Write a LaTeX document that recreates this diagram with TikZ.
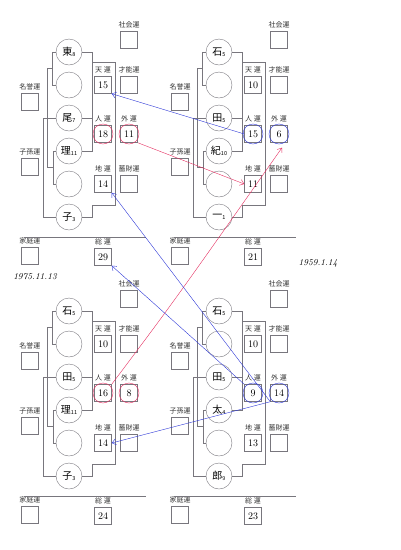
\documentclass[tikz,border=0pt]{standalone}
\usepackage{fontspec}
\newfontfamily\jp{Noto Sans CJK JP}
\usetikzlibrary{arrows.meta,positioning}

\definecolor{formgray}{RGB}{120,118,125}
\definecolor{penred}{RGB}{228,45,95}
\definecolor{penblue}{RGB}{45,55,215}

\tikzset{
  lbl/.style={font=\jp\fontsize{7}{7}\selectfont, text=black!80, inner sep=0pt},
  cell/.style={draw=formgray, minimum size=17pt, inner sep=0pt, font=\fontsize{10}{10}\selectfont},
  moji/.style={draw=formgray, circle, minimum size=26pt, inner sep=0pt, font=\jp\fontsize{10}{10}\selectfont},
  rule/.style={formgray, thin},
  pen/.style={thin, -{Straight Barb[length=4pt,width=6pt]}},
  hand/.style={font=\itshape\fontsize{9}{9}\selectfont, inner sep=0pt},
}

% one blank sheet: #1 = characters/strokes, #2..#6 = ten, jin, gai, chi, sou
\newcommand{\kanteisheet}[6]{%
  % name circles
  \foreach \ch/\n [count=\i] in {#1}
    \node[moji] (c\i) at (69,{19+33*\i}) {\ch\raisebox{-1.5pt}{\fontsize{5.5}{5.5}\selectfont\n}};
  % brackets left
  \draw[rule] (c1.west) -- (52,52) -- (52,85) -- (c2.west);
  \draw[rule] (c4.west) -- (53,151) -- (53,184) -- (c5.west);
  \draw[rule] (52,68) -- (47,68) -- (47,167) -- (53,167);
  \draw[rule] (c3.west) -- (43,118) -- (43,217) -- (c6.west);
  % brackets right
  \draw[rule] (c1.east) -- (92,52) -- (92,151) -- (c4.east);
  \draw[rule] (c3.east) -- (92,118);
  \draw[rule] (c6.east) -- (92,217) -- (92,205) -- (115,205) -- (115,62) -- (92,62);
  % boxes with numbers
  \node[cell] (ten) at (103,85) {#2};
  \node[cell] (jin) at (103,134) {#3};
  \node[cell] (gai) at (129,134) {#4};
  \node[cell] (chi) at (103,184) {#5};
  \node[cell] (sou) at (103,257) {#6};
  % blank boxes
  \foreach \nm/\x/\y in {shakai/129/40, sainou/129/85, chikuzai/129/184,
                         meiyo/30/102, shison/30/167, katei/30/256}
    \node[cell] (\nm) at (\x,\y) {};
  % labels
  \node[lbl, above=3pt of shakai] (shakai-l) {社会運};
  \node[lbl, above=3pt of sainou] (sainou-l) {才能運};
  \node[lbl, above=3pt of chikuzai] (chikuzai-l) {蓄財運};
  \node[lbl, above=3pt of meiyo] (meiyo-l) {名誉運};
  \node[lbl, above=3pt of shison] (shison-l) {子孫運};
  \node[lbl, above=3pt of katei] (katei-l) {家庭運};
  \node[lbl, above=3pt of ten] (ten-l) {天 運};
  \node[lbl, above=3pt of jin] (jin-l) {人 運};
  \node[lbl, above=3pt of gai] (gai-l) {外 運};
  \node[lbl, above=3pt of chi] (chi-l) {地 運};
  \node[lbl, above=3pt of sou] (sou-l) {総 運};
  % separator
  \draw[formgray, semithick] (24,237) -- (146,237);
}

\begin{document}
\begin{tikzpicture}[x=1pt, y=-1pt]
  \useasboundingbox (0,0) rectangle (400,550);

  % --- four sheets ---
  \begin{scope}[name prefix=A-]
    \kanteisheet{東/8, /, 尾/7, 理/11, /, 子/3}{15}{18}{11}{14}{29}
  \end{scope}
  \begin{scope}[xshift=150pt, name prefix=B-]
    \kanteisheet{石/5, /, 田/5, 紀/10, /, 一/1}{10}{15}{6}{11}{21}
  \end{scope}
  \begin{scope}[yshift=-259pt, name prefix=C-]
    \kanteisheet{石/5, /, 田/5, 理/11, /, 子/3}{10}{16}{8}{14}{24}
  \end{scope}
  \begin{scope}[xshift=150pt, yshift=-259pt, name prefix=D-]
    \kanteisheet{石/5, /, 田/5, 太/4, /, 郎/9}{10}{9}{14}{13}{23}
  \end{scope}

  % dates
  \node[hand] (date1) at (35,277) {1975.11.13};
  \node[hand] (date2) at (318,263) {1959.1.14};

  % rings round jin / gai
  \foreach \s in {A,C}
    \foreach \b in {jin,gai}
      \draw[penred] (\s-\b) circle[radius=10];
  \foreach \s in {B,D}
    \foreach \b in {jin,gai}
      \draw[penblue] (\s-\b) circle[radius=10];

  % cross references
  \draw[pen, penblue] (B-jin.west) -- (A-ten.south east);
  \draw[pen, penred] (A-gai.south east) -- (B-chi.west);
  \draw[pen, penred] (C-jin.north east) .. controls (175,300) .. ([xshift=3pt,yshift=-5pt]B-gai.south);
  \draw[pen, penblue] (D-jin.north west) -- (A-sou.south east);
  \draw[pen, penblue] (D-gai.south west) -- (A-chi.south east);
  \draw[pen, penblue] (D-gai.south west) -- (C-chi.east);
\end{tikzpicture}
\end{document}
